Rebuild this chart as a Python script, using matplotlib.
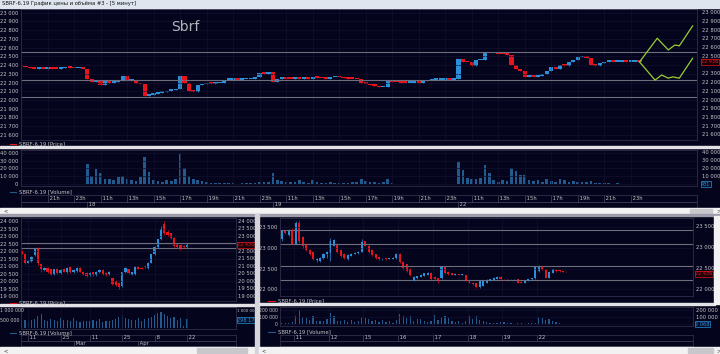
import matplotlib
matplotlib.use("Agg")
import matplotlib.pyplot as plt
import matplotlib.transforms as mtransforms
from matplotlib.patches import Rectangle
from matplotlib.lines import Line2D

W, H = 720, 354
BG = "#04041c"
UP = "#2b8fd8"
DOWN = "#e8141c"
LEVEL = "#6e6e7c"
GRID = "#12122f"
TXT = "#c4c4c8"
VOL = "#235a8e"
FC = "#9acd32"

# ---- top window: SBRF-6.19, 20-minute closes (bar 0 = 19:00, day 17)
top_close = [22385, 22375, 22365, 22360, 22365, 22360, 22365, 22360, 22355, 22365,
             22375, 22370, 22365, 22365, 22360, 22240, 22210, 22230, 22170, 22220,
             22200, 22210, 22220, 22280, 22220, 22230, 22200, 22180, 22050, 22060,
             22070, 22085, 22090, 22105, 22110, 22130, 22280, 22200, 22100, 22095,
             22170, 22180, 22190, 22185, 22190, 22200, 22230, 22230, 22240, 22230,
             22235, 22235, 22240, 22260, 22310, 22300, 22325, 22210, 22240, 22255,
             22245, 22240, 22250, 22240, 22250, 22245, 22260, 22255, 22250, 22245,
             22260, 22265, 22260, 22250, 22245, 22240, 22235, 22200, 22185, 22170,
             22160, 22145, 22150, 22215, 22210, 22205, 22200, 22195, 22200, 22205,
             22200, 22215, 22225, 22230, 22230, 22232, 22232, 22230, 22235, 22470,
             22440, 22430, 22390, 22455, 22460, 22550, 22535, 22540, 22530, 22525,
             22520, 22400, 22350, 22330, 22265, 22270, 22265, 22270, 22300, 22330,
             22380, 22360, 22400, 22390, 22430, 22460, 22490, 22500, 22480, 22400,
             22395, 22420, 22435, 22445, 22440, 22440, 22442, 22440, 22440, 22440,
             22436]
top_volume = [300, 200, 400, 200, 300, 200, 300, 200, 200, 300,
              400, 200, 300, 200, 300, 25000, 10000, 19000, 14000, 7000,
              6000, 5000, 9000, 10000, 6000, 5000, 4000, 9000, 34000, 15000,
              5000, 4000, 3000, 5000, 4000, 7000, 38000, 20000, 10000, 6000,
              5000, 4000, 2500, 1000, 800, 1200, 700, 900, 1000, 600,
              800, 1200, 900, 1500, 2000, 3000, 2500, 14000, 5000, 4000,
              3000, 2500, 2000, 5000, 2000, 1500, 5000, 2000, 1500, 1200,
              2000, 1000, 1500, 1200, 1000, 2000, 3000, 7000, 4000, 2500,
              2000, 1500, 2000, 7000, 1500, 500, 400, 600, 400, 500,
              300, 400, 500, 300, 400, 600, 400, 500, 600, 28000,
              18000, 8000, 6000, 7000, 8000, 24000, 14000, 5000, 3000, 5000,
              4000, 20000, 17000, 11000, 12000, 5000, 4000, 5000, 3000, 6000,
              4000, 3000, 6000, 5000, 3000, 4000, 2500, 3000, 2000, 4000,
              1500, 1000, 800, 700, 600, 800, 500, 600, 500, 400,
              300]
hour_labels = ["21h", "23h", "11h", "13h", "15h", "17h", "19h",
               "21h", "23h", "11h", "13h", "15h", "17h", "19h",
               "21h", "23h", "11h", "13h", "15h", "17h", "19h", "21h", "23h"]
hour_bars = [6 + 6 * k for k in range(len(hour_labels))]
day_labels = ["18", "19", "22"]
day_bars = [15, 57, 99]
fc_up_x = [140, 144, 146.5, 148, 149, 152]
fc_up = [22436, 22707, 22573, 22630, 22620, 22848]
fc_dn_x = [140, 143.5, 145, 146.5, 147.5, 149, 152]
fc_dn = [22436, 22228, 22286, 22250, 22265, 22250, 22478]
top_levels = [22553, 22226, 22034]
bl_levels = [22553, 22226]
br_levels = [23425, 23089, 22553, 22226]
last_price = 22436
last_top_volume = 431

# ---- bottom-left: daily candles 7 Feb .. 22 Apr
bl_open = [22050, 21850, 21250, 21350, 21750, 22150, 21150, 20750, 20900, 20800,
           20500, 20850, 20550, 20850, 20600, 20950, 20600, 20700, 20900, 20650,
           20550, 20400, 20600, 20400, 20600, 20750, 20550, 20500, 20200, 20000,
           19900, 19700, 20600, 20800, 20450, 20500, 20950, 20900, 21050, 20900,
           21250, 21800, 22300, 22800, 23800, 23300, 23200, 22900, 22500, 22400,
           22350, 22300]
bl_close = [21850, 21200, 21350, 21650, 22150, 21200, 20800, 20900, 20600, 20450,
            20800, 20550, 20750, 20650, 20900, 20600, 20750, 20900, 20650, 20450,
            20350, 20550, 20400, 20650, 20750, 20500, 20400, 20650, 19800, 19750,
            19650, 20600, 20900, 20550, 20600, 20950, 20850, 20850, 20950, 21250,
            21800, 22300, 22800, 23500, 23200, 23100, 22900, 22350, 22300, 22250,
            22300, 22436]
bl_high = [22100, 21900, 21400, 21700, 22250, 22300, 21200, 20950, 20950, 20850,
           20850, 20900, 20800, 20900, 20950, 21000, 20800, 20950, 20950, 20700,
           20600, 20600, 20650, 20700, 20800, 20800, 20600, 20700, 20250, 20100,
           19950, 20650, 20950, 20850, 20650, 21000, 21000, 20950, 21100, 21300,
           21850, 22350, 22850, 23700, 24000, 23400, 23250, 22950, 22550, 22450,
           22400, 22550]
bl_low = [21800, 21150, 21200, 21300, 21700, 21100, 20600, 20700, 20550, 20400,
          20450, 20500, 20500, 20600, 20550, 20550, 20550, 20650, 20600, 20400,
          20300, 20350, 20350, 20350, 20550, 20450, 20350, 20450, 19750, 19700,
          19500, 19650, 20550, 20500, 20400, 20450, 20800, 20800, 20900, 20850,
          21200, 21750, 22250, 22750, 23100, 23000, 22850, 22300, 22200, 22100,
          22250, 22250]
bl_volume = [480, 520, 450, 500, 560, 720, 850, 500, 450, 560,
             480, 430, 600, 480, 520, 450, 620, 420, 380, 450,
             470, 420, 500, 430, 550, 380, 460, 420, 480, 560,
             700, 820, 650, 550, 480, 520, 600, 430, 560, 620,
             700, 800, 940, 1000, 850, 760, 600, 700, 500, 620,
             150, 560]  # thousands
bl_day_ticks = [2, 12, 21, 31, 41, 51]
bl_day_labels = ["11", "25", "11", "25", "8", "22"]
bl_month_ticks = [16, 36]
bl_month_labels = ["Mar", "Apr"]

# ---- bottom-right: 10 bars per session, 10 Apr (evening) .. 22 Apr
br_open = [23200, 23400, 23300, 23420,
           23100, 23600, 23250, 23100, 22950, 22900, 22700, 22680, 22760, 22850,
           22870, 23050, 23100, 22950, 22850, 22720, 22800, 22850, 22870, 22900,
           23150, 23050, 22950, 22850, 22780, 22720, 22745, 22725, 22740, 22750,
           22860, 22650, 22600, 22500, 22230, 22260, 22300, 22330, 22350, 22400,
           22300, 22260, 22260, 22540, 22420, 22380, 22350, 22370, 22350, 22340,
           22220, 22160, 22150, 22060, 22080, 22150, 22200, 22230, 22250, 22300,
           22250, 22240, 22245, 22238, 22240, 22180, 22160, 22220, 22240, 22260,
           22430, 22560, 22470, 22280, 22400, 22470, 22460, 22430, 22440]
br_close = [23400, 23350, 23420, 23100,
            23600, 23150, 23050, 22950, 22850, 22720, 22740, 22760, 22860, 22900,
            23150, 23180, 22900, 22800, 22760, 22820, 22860, 22880, 22900, 23130,
            23050, 22900, 22820, 22760, 22720, 22740, 22725, 22745, 22760, 22860,
            22650, 22520, 22430, 22340, 22300, 22310, 22350, 22380, 22400, 22250,
            22240, 22230, 22550, 22380, 22360, 22350, 22370, 22355, 22360, 22200,
            22150, 22120, 22050, 22220, 22200, 22230, 22240, 22260, 22300, 22240,
            22240, 22245, 22240, 22242, 22160, 22150, 22220, 22250, 22270, 22540,
            22560, 22480, 22280, 22420, 22480, 22430, 22430, 22420, 22436]
br_high = [23420, 23430, 23440, 23480,
           23650, 23660, 23280, 23120, 22980, 22920, 22760, 22780, 22880, 22920,
           23230, 23200, 23120, 22970, 22870, 22840, 22870, 22890, 22910, 23200,
           23170, 23060, 22960, 22860, 22790, 22750, 22750, 22750, 22770, 22880,
           22870, 22670, 22620, 22510, 22310, 22320, 22360, 22390, 22420, 22420,
           22310, 22270, 22570, 22550, 22430, 22390, 22380, 22375, 22365, 22350,
           22230, 22170, 22160, 22230, 22210, 22240, 22250, 22300, 22310, 22310,
           22255, 22250, 22250, 22248, 22245, 22190, 22225, 22255, 22280, 22560,
           22580, 22570, 22480, 22430, 22500, 22480, 22465, 22440, 22445]
br_low = [23150, 23330, 23280, 23080,
          23080, 23120, 23000, 22920, 22820, 22700, 22650, 22660, 22740, 22750,
          22680, 23030, 22880, 22780, 22740, 22700, 22790, 22840, 22860, 22890,
          23030, 22880, 22800, 22740, 22700, 22710, 22715, 22720, 22735, 22740,
          22630, 22500, 22410, 22320, 22200, 22250, 22290, 22320, 22340, 22230,
          22220, 22140, 22250, 22370, 22350, 22340, 22340, 22345, 22345, 22190,
          22140, 22100, 22020, 22020, 22070, 22140, 22190, 22220, 22240, 22230,
          22235, 22235, 22235, 22232, 22140, 22140, 22150, 22210, 22235, 22250,
          22420, 22460, 22260, 22270, 22390, 22420, 22420, 22410, 22420]
br_volume = [20, 15, 25, 30,
             110, 200, 100, 95, 60, 110, 40, 50, 45, 70,
             160, 120, 50, 40, 55, 30, 60, 35, 40, 100,
             95, 80, 40, 60, 35, 55, 30, 40, 25, 60,
             150, 110, 90, 120, 50, 80, 70, 40, 30, 50,
             130, 60, 100, 110, 90, 40, 30, 50, 25, 40,
             120, 80, 110, 60, 40, 30, 20, 25, 15, 30,
             30, 20, 15, 10, 20, 15, 10, 20, 25, 15,
             100, 90, 60, 70, 40, 30, 20, 10, 5]  # thousands
br_first_slot = 6
br_day_ticks = [10, 20, 30, 40, 50, 60, 70, 80]
br_day_labels = ["11", "12", "15", "16", "17", "18", "19", "22"]


def fmt(v):
    return f"{int(v):,}".replace(",", " ")


fig = plt.figure(figsize=(W / 100, H / 100), dpi=100)
fig.patch.set_facecolor(BG)


def pax(x0, y0, x1, y1):
    ax = fig.add_axes([x0 / W, 1 - y1 / H, (x1 - x0) / W, (y1 - y0) / H])
    ax.set_facecolor(BG)
    for s in ax.spines.values():
        s.set_color("#2e2e4a")
        s.set_linewidth(0.6)
    ax.tick_params(length=0, labelsize=3.8, labelcolor=TXT, pad=2)
    return ax


def ftext(x, y, s, **kw):
    kw.setdefault("fontsize", 3.8)
    kw.setdefault("color", TXT)
    kw.setdefault("va", "center")
    fig.text(x / W, 1 - y / H, s, **kw)


def frect(x, y, w, h, **kw):
    fig.add_artist(Rectangle((x / W, 1 - (y + h) / H), w / W, h / H,
                             transform=fig.transFigure, **kw))


def fline(x0, x1, y, **kw):
    fig.add_artist(Line2D([x0 / W, x1 / W], [1 - y / H, 1 - y / H], **kw))


def left_labels(ax, ticks):
    ax.set_yticks(ticks)
    ax.set_yticklabels([fmt(t) for t in ticks])
    ax.tick_params(axis="y", labelleft=True, labelright=False)


def right_labels(ax, ticks, size=3.8):
    tr = mtransforms.blended_transform_factory(ax.transAxes, ax.transData)
    for t in ticks:
        ax.text(1.008, t, fmt(t), transform=tr, color=TXT, fontsize=size,
                va="center", ha="left", clip_on=False)


def candles(ax, x, o, c, h, lo, width, minh):
    cols = [UP if ci >= oi else DOWN for oi, ci in zip(o, c)]
    bottoms = [min(oi, ci) for oi, ci in zip(o, c)]
    heights = [max(abs(ci - oi), minh) for oi, ci in zip(o, c)]
    ax.vlines(x, lo, h, colors=cols, lw=0.5)
    ax.bar(x, heights, bottom=bottoms, width=width, color=cols, lw=0)


def price_tag(ax, y, s, col, fc):
    tr = mtransforms.blended_transform_factory(ax.transAxes, ax.transData)
    ax.text(1.006, y, s, transform=tr, color=col, fontsize=3.6, va="center",
            ha="left", bbox=dict(boxstyle="square,pad=0.1", fc=fc, ec=col, lw=0.5))


def time_rows(ax, xlim, ticks, labels, lower_ticks, lower_labels, line_col="#4a4a66"):
    ax.set_xlim(*xlim)
    ax.set_ylim(0, 2)
    ax.set_xticks([])
    ax.set_yticks([])
    ax.axhline(1, color=line_col, lw=0.5)
    for t, lab in zip(ticks, labels):
        ax.plot([t, t], [1, 2], color=line_col, lw=0.5)
        ax.text(t, 1.5, " " + lab, fontsize=3.8, color=TXT, va="center", ha="left")
    for t, lab in zip(lower_ticks, lower_labels):
        ax.plot([t, t], [0, 1], color=line_col, lw=0.5)
        ax.text(t, 0.5, " " + lab, fontsize=3.8, color=TXT, va="center", ha="left")


# ================= top window =================
frect(0, 0, 720, 8, color="#dfe5ee")
ftext(2, 4, "SBRF-6.19 График цены и объёма #3 - [5 минут]", color="#101010")

top_x = list(range(len(top_close)))
top_open = [top_close[0] + 5] + top_close[:-1]
top_high = [max(a, b) for a, b in zip(top_open, top_close)]
top_low = [min(a, b) for a, b in zip(top_open, top_close)]
top_xlim = (0, 153)

ax1 = pax(21, 9, 697, 140)
ax1.set_xlim(*top_xlim)
ax1.set_ylim(21542, 23042)
price_ticks = list(range(21600, 23001, 100))
left_labels(ax1, price_ticks)
right_labels(ax1, [t for t in price_ticks if t != 22400])  # 22 400 is under the price tag
ax1.set_xticks(hour_bars)
ax1.set_xticklabels([])
ax1.grid(color=GRID, lw=0.5)
for lv in top_levels:
    ax1.axhline(lv, color=LEVEL, lw=0.8)
candles(ax1, top_x, top_open, top_close, top_high, top_low, 0.95, 18)
ax1.plot(fc_up_x, fc_up, color=FC, lw=0.9)
ax1.plot(fc_dn_x, fc_dn, color=FC, lw=0.9)
price_tag(ax1, last_price, fmt(last_price), DOWN, "#1c0008")
ftext(185, 27, "Sbrf", fontsize=10, color="#b4b4bc", ha="center")

fline(10, 16, 144, color=DOWN, lw=0.8)
ftext(19, 144, "SBRF-6.19 [Price]")
frect(0, 146.5, 720, 1.6, color="#e2e2e6")

ax2 = pax(21, 150, 697, 186)
ax2.set_xlim(*top_xlim)
ax2.set_ylim(-2555, 43450)
left_labels(ax2, [0, 10000, 20000, 30000, 40000])
right_labels(ax2, [10000, 20000, 30000, 40000])
ax2.set_xticks(hour_bars)
ax2.set_xticklabels([])
ax2.grid(color=GRID, lw=0.5)
ax2.bar(top_x, top_volume, width=0.6, color=VOL, lw=0)
price_tag(ax2, 0, fmt(last_top_volume), UP, "#04102a")

fline(10, 16, 192, color=VOL, lw=0.8)
ftext(19, 192, "SBRF-6.19 [Volume]")

ax3 = pax(21, 195, 697, 208)
time_rows(ax3, top_xlim, hour_bars, hour_labels, day_bars, day_labels)

frect(0, 208, 720, 6, color="#f2f2f2")
frect(690, 208.5, 22, 5, color="#c8c8cc")
ftext(3, 211, "<", color="#333333")
ftext(716, 211, ">", color="#333333")

# ================= bottom windows frame =================
frect(0, 214, 720, 2, color="#9c9cab")

# ---- bottom-left: daily
bl_x = list(range(len(bl_close)))
bl_xlim = (-0.22, 66.14)
ax4 = pax(21, 218, 236, 301)
ax4.set_xlim(*bl_xlim)
ax4.set_ylim(18700, 24233)
bl_ticks = list(range(19000, 24001, 500))
left_labels(ax4, bl_ticks)
right_labels(ax4, [t for t in bl_ticks if t != 22500])  # 22 500 is under the price tag
ax4.set_xticks(bl_day_ticks)
ax4.set_xticklabels([])
ax4.grid(color=GRID, lw=0.5)
for lv in bl_levels:
    ax4.axhline(lv, color=LEVEL, lw=0.8)
candles(ax4, bl_x, bl_open, bl_close, bl_high, bl_low, 0.7, 20)
price_tag(ax4, last_price, fmt(last_price), DOWN, "#1c0008")
fline(10, 16, 302.5, color=DOWN, lw=0.8)
ftext(19, 302.5, "SBRF-6.19 [Price]")
frect(0, 304.3, 255, 1.4, color="#e2e2e6")

ax5 = pax(21, 307, 236, 329)
ax5.set_xlim(*bl_xlim)
ax5.set_ylim(-40, 1290)
ax5.set_yticks([])
ax5.set_xticks(bl_day_ticks)
ax5.set_xticklabels([])
ax5.grid(color=GRID, lw=0.5)
ax5.bar(bl_x, bl_volume, width=0.35, color=VOL, lw=0)
ftext(0.5, 311, "1 000 000", fontsize=3.4, ha="left")
ftext(19.5, 320, "500 000", fontsize=3.4, ha="right")
ftext(237, 311, "1 000 000", fontsize=2.8, ha="left")
price_tag(ax5, 500, "298 175", UP, "#04102a")
fline(10, 16, 333, color=VOL, lw=0.8)
ftext(19, 333, "SBRF-6.19 [Volume]")

ax6 = pax(21, 335, 236, 346)
time_rows(ax6, bl_xlim, bl_day_ticks, bl_day_labels, bl_month_ticks, bl_month_labels)

frect(0, 347, 255, 7, color="#f2f2f2")
frect(197, 348, 50, 5, color="#c8c8cc")
ftext(3, 350.5, "<", color="#333333")

# separator between the two lower windows
frect(255, 214, 4, 140, color="#d4d4da")

# ---- bottom-right: intraday
br_x = [br_first_slot + i + 0.5 for i in range(len(br_close))]
br_xlim = (5.97, 124.96)
ax7 = pax(280, 218, 693, 296)
ax7.set_xlim(*br_xlim)
ax7.set_ylim(21839, 23714)
br_ticks = [22000, 22500, 23000, 23500]
left_labels(ax7, br_ticks)
right_labels(ax7, br_ticks)
ax7.set_xticks(br_day_ticks)
ax7.set_xticklabels([])
ax7.grid(color=GRID, lw=0.5)
for lv in br_levels:
    ax7.axhline(lv, color=LEVEL, lw=0.8)
candles(ax7, br_x, br_open, br_close, br_high, br_low, 0.6, 6)
price_tag(ax7, last_price - 60, fmt(last_price), DOWN, "#1c0008")
fline(268, 275, 300.5, color=DOWN, lw=0.8)
ftext(278, 300.5, "SBRF-6.19 [Price]")
frect(259, 303.3, 456, 1.4, color="#e2e2e6")

ax8 = pax(280, 307, 693, 326)
ax8.set_xlim(*br_xlim)
ax8.set_ylim(-24, 242)
ax8.set_yticks([0, 100, 200])
ax8.set_yticklabels(["0", "100 000", "200 000"])
ax8.tick_params(axis="y", labelsize=3.3, pad=1.5)
ax8.set_xticks(br_day_ticks)
ax8.set_xticklabels([])
ax8.grid(color=GRID, lw=0.5)
ax8.bar(br_x, br_volume, width=0.35, color=VOL, lw=0)
tr8 = mtransforms.blended_transform_factory(ax8.transAxes, ax8.transData)
for v in [100, 200]:
    ax8.text(1.008, v, fmt(v * 1000), transform=tr8, color=TXT, fontsize=3.8,
             va="center", ha="left")
price_tag(ax8, 0, "2 068", UP, "#04102a")
fline(268, 275, 331.5, color=VOL, lw=0.8)
ftext(278, 331.5, "SBRF-6.19 [Volume]")

ax9 = pax(280, 335, 693, 346)
time_rows(ax9, br_xlim, br_day_ticks, br_day_labels, [], [])

frect(259, 347, 461, 7, color="#f2f2f2")
frect(688, 348, 25, 5, color="#c8c8cc")
ftext(262, 350.5, "<", color="#333333")
ftext(716, 350.5, ">", color="#333333")
frect(714, 216, 6, 88, color="#f2f2f2")

fig.savefig("out.png", dpi=100, facecolor=BG)
